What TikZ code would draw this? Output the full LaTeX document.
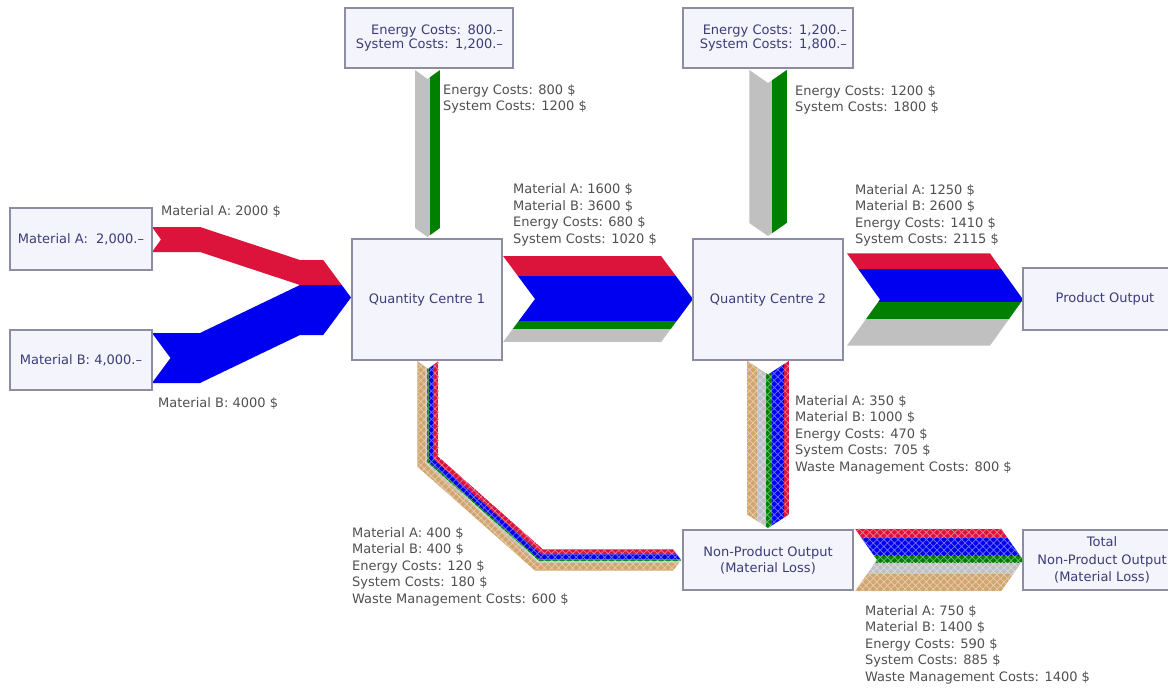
\documentclass[tikz,border=0pt]{standalone}
\usepackage{fontspec}
\setmainfont{DejaVu Sans}
\usetikzlibrary{patterns.meta}

\definecolor{matA}{RGB}{220,20,60}
\definecolor{matB}{RGB}{0,0,240}
\definecolor{energy}{RGB}{0,128,0}
\definecolor{system}{RGB}{192,192,192}
\definecolor{waste}{RGB}{210,165,110}
\definecolor{boxfill}{RGB}{244,244,252}
\definecolor{boxline}{RGB}{140,140,162}
\definecolor{boxtext}{RGB}{60,60,120}
\definecolor{labeltext}{RGB}{80,80,80}

% horizontal arrow band: x-tail, x-base of tip, y-top, y-bottom, tip depth
\newcommand\hband[5]{(#1,#3) -- (#2,#3) -- ({#2+#5},{(#3+#4)/2}) -- (#2,#4) -- (#1,#4) -- ({#1+#5},{(#3+#4)/2}) -- cycle}
% vertical (downward) arrow band: x-left, x-right, y-tail, y-base of tip, tip depth
\newcommand\vband[5]{(#1,#3) -- ({(#1+#2)/2},{#3+#5}) -- (#2,#3) -- (#2,#4) -- ({(#1+#2)/2},{#4+#5}) -- (#1,#4) -- cycle}
% outline of the bent loss band below Quantity Centre 1
\newcommand\lossbend{(417.35,361) -- (428,369) -- (438.6,361) -- (438.6,457) -- (543.06,549.4) -- (673.1,549.4) -- (681,560) -- (673.1,570.65) -- (535.0,570.65) -- (417.35,466.6) -- cycle}

\newcommand\lblfont{\fontsize{13}{16.5}\selectfont}
\newcommand\boxfont{\fontsize{13}{16}\selectfont}

\tikzset{
  box/.style={draw=boxline, line width=1.2pt, fill=boxfill, text=boxtext,
    font=\boxfont, inner sep=0pt, align=center},
  % multi-line labels are placed by the baseline of their last line
  lbl/.style={anchor=base west, inner sep=0pt, text=labeltext, align=left, font=\lblfont},
  % loss flows: solid colour with a lighter cross-hatch of the same hue
  loss/.style={fill=#1, postaction={pattern={Hatch[angle=45,distance=5pt,line width=0.7pt]},
    pattern color=#1!55!white}}
}

\begin{document}
\begin{tikzpicture}[x=1pt,y=-1pt]
\useasboundingbox[fill=white] (0,0) rectangle (1168,688);

% ---- raw material inputs into Quantity Centre 1
\fill[matA] (152,227) -- (200,227) -- (300,260) -- (323.25,260) -- (341.75,285)
  -- (300,285) -- (200,252) -- (152,252) -- (161,239.5) -- cycle;
\fill[matB] (152,333) -- (200,333) -- (300,285) -- (341.75,285) -- (351,297.5)
  -- (323.25,335) -- (300,335) -- (200,383) -- (152,383) -- (170.5,358) -- cycle;

% ---- energy and system costs into Quantity Centre 1
\begin{scope}
  \clip \vband{415}{440}{70}{228}{9};
  \fill[system] (415,60) rectangle (430,250);
  \fill[energy] (430,60) rectangle (440,250);
\end{scope}

% ---- energy and system costs into Quantity Centre 2
\begin{scope}
  \clip \vband{749.25}{786.75}{70}{223}{13};
  \fill[system] (749.25,60) rectangle (771.75,250);
  \fill[energy] (771.75,60) rectangle (786.75,250);
\end{scope}

% ---- Quantity Centre 1 -> Quantity Centre 2
\begin{scope}
  \clip \hband{503}{661}{255.9}{342.1}{32};
  \fill[matA] (495,255.9) rectangle (700,275.9);
  \fill[matB] (495,275.9) rectangle (700,320.9);
  \fill[energy] (495,320.9) rectangle (700,329.4);
  \fill[system] (495,329.4) rectangle (700,342.1);
\end{scope}

% ---- Quantity Centre 2 -> Product Output
\begin{scope}
  \clip \hband{847}{990}{253.4}{345.6}{33};
  \fill[matA] (840,253.4) rectangle (1030,269.0);
  \fill[matB] (840,269.0) rectangle (1030,301.5);
  \fill[energy] (840,301.5) rectangle (1030,319.1);
  \fill[system] (840,319.1) rectangle (1030,345.6);
\end{scope}

% ---- Quantity Centre 1 -> Non-Product Output (bent band)
\begin{scope}
  \clip \lossbend;
  \foreach \da/\db/\col in {0/5/matA, 5/10/matB, 10/11.5/energy, 11.5/13.75/system, 13.75/21.25/waste} {
    \pgfmathsetmacro\xa{438.6-\da}
    \pgfmathsetmacro\xb{438.6-\db}
    \pgfmathsetmacro\ya{(0.6626*\xa+51.67+\da)/0.749}
    \pgfmathsetmacro\yb{(0.6626*\xb+51.67+\db)/0.749}
    \pgfmathsetmacro\ha{549.4+\da}
    \pgfmathsetmacro\hb{549.4+\db}
    \pgfmathsetmacro\ua{(-51.67-\da+0.749*\ha)/0.6626}
    \pgfmathsetmacro\ub{(-51.67-\db+0.749*\hb)/0.6626}
    \path[loss=\col] (\xa,350) -- (\xa,\ya) -- (\ua,\ha) -- (700,\ha) -- (700,\hb)
      -- (\ub,\hb) -- (\xb,\yb) -- (\xb,350) -- cycle;
  }
\end{scope}

% ---- Quantity Centre 2 -> Non-Product Output
\begin{scope}
  \clip \vband{747.2}{788.8}{361}{514.5}{13.5};
  \path[loss=waste] (747.2,350) rectangle (757.2,540);
  \path[loss=system] (757.2,350) rectangle (766.0,540);
  \path[loss=energy] (766.0,350) rectangle (771.9,540);
  \path[loss=matB] (771.9,350) rectangle (784.4,540);
  \path[loss=matA] (784.4,350) rectangle (788.8,540);
\end{scope}

% ---- Non-Product Output -> Total Non-Product Output
\begin{scope}
  \clip \hband{855}{1001}{528.6}{591.4}{22};
  \path[loss=matA] (850,528.6) rectangle (1030,538.0);
  \path[loss=matB] (850,538.0) rectangle (1030,555.5);
  \path[loss=energy] (850,555.5) rectangle (1030,562.9);
  \path[loss=system] (850,562.9) rectangle (1030,574.0);
  \path[loss=waste] (850,574.0) rectangle (1030,591.4);
\end{scope}

% ---- boxes
\node[box, minimum width=142pt, minimum height=62pt] (matAbox) at (81,239) {Material A:~ 2,000.--};
\node[box, minimum width=142pt, minimum height=60pt] (matBbox) at (81,360) {Material B: 4,000.--};
\node[box, minimum width=168pt, minimum height=60pt, text width=148pt, align=right,
  font=\fontsize{13}{14.5}\selectfont] (en1box) at (429,38)
  {Energy Costs: 800.--\\System Costs: 1,200.--};
\node[box, minimum width=170pt, minimum height=60pt, text width=158pt, align=right,
  font=\fontsize{13}{14.5}\selectfont] (en2box) at (768,38)
  {Energy Costs: 1,200.--\\System Costs: 1,800.--};
\node[box, minimum width=150pt, minimum height=121pt] (qc1) at (427,299.5) {Quantity Centre 1};
\node[box, minimum width=150pt, minimum height=121pt] (qc2) at (768,299.5) {Quantity Centre 2};
\node[box, minimum width=164pt, minimum height=62pt] (prod) at (1105,299) {Product Output};
\node[box, minimum width=170pt, minimum height=60pt] (npo) at (768,560) {Non-Product Output\\(Material Loss)};
\node[box, minimum width=158pt, minimum height=60pt, font=\fontsize{13}{17.5}\selectfont] (tnpo) at (1102,560)
  {Total\\Non-Product Output\\(Material Loss)};

% ---- flow labels
\node[lbl] (lmatA) at (161,215) {Material A: 2000 \$};
\node[lbl] (lmatB) at (158,407) {Material B: 4000 \$};
\node[lbl] (len1) at (443,110.5) {Energy Costs: 800 \$\\System Costs: 1200 \$};
\node[lbl] (len2) at (795,111.5) {Energy Costs: 1200 \$\\System Costs: 1800 \$};
\node[lbl] (lq12) at (513,243) {Material A: 1600 \$\\Material B: 3600 \$\\Energy Costs: 680 \$\\System Costs: 1020 \$};
\node[lbl] (lq2p) at (855,243.5) {Material A: 1250 \$\\Material B: 2600 \$\\Energy Costs: 1410 \$\\System Costs: 2115 \$};
\node[lbl] (lq2n) at (795,471) {Material A: 350 \$\\Material B: 1000 \$\\Energy Costs: 470 \$\\System Costs: 705 \$\\Waste Management Costs: 800 \$};
\node[lbl] (lq1n) at (352,603) {Material A: 400 \$\\Material B: 400 \$\\Energy Costs: 120 \$\\System Costs: 180 \$\\Waste Management Costs: 600 \$};
\node[lbl] (lnt) at (865,681) {Material A: 750 \$\\Material B: 1400 \$\\Energy Costs: 590 \$\\System Costs: 885 \$\\Waste Management Costs: 1400 \$};
\end{tikzpicture}
\end{document}
